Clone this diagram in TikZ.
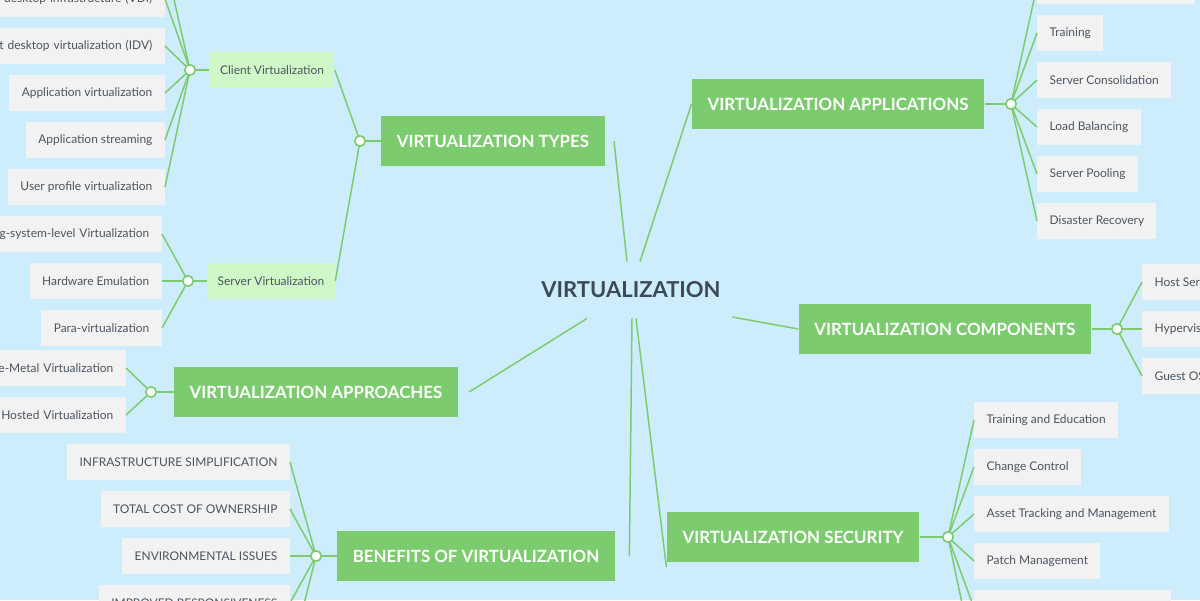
\documentclass[tikz,border=0pt]{standalone}
\usepackage{fontspec}
\setmainfont{Lato}
\definecolor{bgblue}{HTML}{CDEDFC}
\definecolor{mgreen}{HTML}{7CCB6E}
\definecolor{lgreen}{HTML}{D0F7C8}
\definecolor{leafgray}{HTML}{F2F2F2}
\definecolor{txtgray}{HTML}{4A5560}
\definecolor{titlegray}{HTML}{3D4A55}
\tikzset{
  main/.style={fill=mgreen, text=white, font=\bfseries\fontsize{9.6}{11}\selectfont, minimum height=29pt, inner xsep=9pt},
  sub/.style={fill=lgreen, text=txtgray, font=\fontsize{6.8}{8}\selectfont, minimum height=20pt, inner xsep=6pt},
  leaf/.style={fill=leafgray, text=txtgray, font=\fontsize{6.8}{8}\selectfont, minimum height=21pt, inner xsep=7pt},
  cutl/.style={leaf, text width=170pt, align=right},
  junc/.style={circle, draw=mgreen, line width=0.9pt, fill=white, inner sep=0pt, minimum size=6pt},
  link/.style={draw=mgreen, line width=0.85pt}
}
\begin{document}
\begin{tikzpicture}[x=0.02cm, y=-0.02cm]
  \useasboundingbox (0,0) rectangle (1200,600);
  \fill[bgblue] (0,0) rectangle (1200,600);
  \clip (0,0) rectangle (1200,600);
  % centre
  \node [font=\bfseries\fontsize{12.5}{14}\selectfont, text=titlegray, minimum width=115pt, minimum height=32pt] (root) at (631,290) {VIRTUALIZATION};
  % main branches
  \node [main] (types) at (493,141) {VIRTUALIZATION TYPES};
  \node [main] (apps) at (838,104) {VIRTUALIZATION APPLICATIONS};
  \node [main] (comp) at (945,329) {VIRTUALIZATION COMPONENTS};
  \node [main] (appr) at (316,392) {VIRTUALIZATION APPROACHES};
  \node [main] (bene) at (476,556) {BENEFITS OF VIRTUALIZATION};
  \node [main] (secu) at (793,537) {VIRTUALIZATION SECURITY};
  \path [link] (root.north) ++(-4,0) -- ([xshift=5]types.east);
  \path [link] (root.north) ++(9,0) -- (apps.west);
  \path [link] (root.east) ++(0,27) -- (comp.west);
  \path [link] (root.south) ++(-44,0) -- ([xshift=6]appr.east);
  \path [link] (root.south) ++(1,0) -- ([xshift=8]bene.east);
  \path [link] (root.south) ++(5,0) -- ([yshift=-17]secu.west);
  % types
  \node [sub] (client) at (272,70) {Client Virtualization};
  \node [sub] (server) at (271,281) {Server Virtualization};
  \coordinate (jt) at (360,141);
  \path [link] (jt) -- (types.west);
  \path [link] (jt) -- (client.east);
  \path [link] (jt) -- (server.east);
  \node [junc] at (jt) {};
  \coordinate (jc) at (190,70);
  \path [link] (jc) -- (client.west);
  \foreach \y/\n/\t in {-1/c1/{al desktop infrastructure (VDI)}, 46/c2/{nt desktop virtualization (IDV)}} {
    \node [cutl, anchor=east] (\n) at (165,\y) {\t};
    \path [link] (jc) -- (\n.east);
  }
  \foreach \y/\n/\t in {93/c3/Application virtualization, 140/c4/Application streaming, 187/c5/User profile virtualization} {
    \node [leaf, anchor=east] (\n) at (165,\y) {\t};
    \path [link] (jc) -- (\n.east);
  }
  \path [link] (jc) -- (165,-40);
  \node [junc] at (jc) {};
  \coordinate (js) at (188,281);
  \path [link] (js) -- (server.west);
  \node [cutl, anchor=east] (s1) at (162,234) {g-system-level Virtualization};
  \node [leaf, anchor=east] (s2) at (162,281) {Hardware Emulation};
  \node [leaf, anchor=east] (s3) at (162,328) {Para-virtualization};
  \foreach \n in {s1,s2,s3} \path [link] (js) -- (\n.east);
  \node [junc] at (js) {};
  % approaches
  \coordinate (ja) at (151,392);
  \path [link] (ja) -- (appr.west);
  \node [cutl, anchor=east] (a1) at (126,368) {re-Metal Virtualization};
  \node [leaf, anchor=east, text width=170pt, align=right] (a2) at (126,415) {Hosted Virtualization};
  \foreach \n in {a1,a2} \path [link] (ja) -- (\n.east);
  \node [junc] at (ja) {};
  % applications
  \coordinate (jp) at (1011,104);
  \path [link] (jp) -- (apps.east);
  \node [leaf, anchor=west, minimum width=90pt] (p0) at (1037,-14) {};
  \path [link] (jp) -- (p0.west);
  \foreach \y/\n/\t in {33/p1/Training, 80/p2/Server Consolidation, 127/p3/Load Balancing, 174/p4/Server Pooling, 221/p5/Disaster Recovery} {
    \node [leaf, anchor=west] (\n) at (1037,\y) {\t};
    \path [link] (jp) -- (\n.west);
  }
  \node [junc] at (jp) {};
  % components
  \coordinate (jm) at (1117,329);
  \path [link] (jm) -- (comp.east);
  \foreach \y/\n/\t in {282/m1/Host Server, 329/m2/Hypervisor, 376/m3/Guest OS} {
    \node [leaf, anchor=west] (\n) at (1142,\y) {\t};
    \path [link] (jm) -- (\n.west);
  }
  \node [junc] at (jm) {};
  % security
  \coordinate (jy) at (948,537);
  \path [link] (jy) -- (secu.east);
  \foreach \y/\n/\t in {420/y1/Training and Education, 467/y2/Change Control, 514/y3/Asset Tracking and Management, 561/y4/Patch Management} {
    \node [leaf, anchor=west] (\n) at (974,\y) {\t};
    \path [link] (jy) -- (\n.west);
  }
  \node [leaf, anchor=west, minimum width=112pt] (y5) at (974,608) {};
  \path [link] (jy) -- (y5.west);
  \path [link] (jy) -- (974,660);
  \node [junc] at (jy) {};
  % benefits
  \coordinate (jb) at (316,556);
  \path [link] (jb) -- (bene.west);
  \foreach \y/\n/\t in {462/b1/INFRASTRUCTURE SIMPLIFICATION, 509/b2/TOTAL COST OF OWNERSHIP, 556/b3/ENVIRONMENTAL ISSUES, 603/b4/IMPROVED RESPONSIVENESS} {
    \node [leaf, anchor=east] (\n) at (290,\y) {\t};
    \path [link] (jb) -- (\n.east);
  }
  \path [link] (jb) -- (290,660);
  \node [junc] at (jb) {};
\end{tikzpicture}
\end{document}
